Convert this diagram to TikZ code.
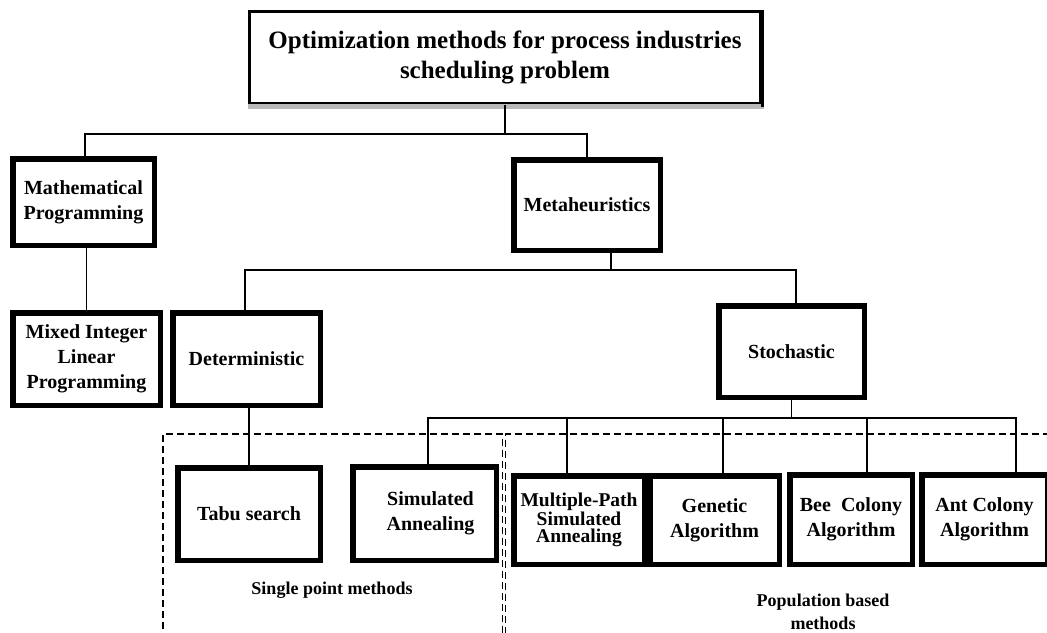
\documentclass[tikz,border=0pt]{standalone}
\usepackage{fontspec}
\setmainfont{Liberation Serif}
\usetikzlibrary{calc}
\begin{document}
\begin{tikzpicture}[x=1pt,y=-1pt,
  box/.style={draw, line width=5.5pt, fill=white, align=center, inner sep=0pt,
    font=\bfseries\fontsize{20}{25}\selectfont},
  conn/.style={draw, line width=1.4pt},
  dashedline/.style={draw, line width=1.5pt, dash pattern=on 7pt off 4pt},
  lbl/.style={align=center, inner sep=0pt, font=\bfseries\fontsize{18}{23}\selectfont}]
\useasboundingbox (0,0) rectangle (1047,632);
\clip (0,0) rectangle (1047,632);

% root
\node[draw, line width=3pt, fill=white, align=center, inner sep=0pt,
  minimum width=511pt, minimum height=92pt,
  font=\bfseries\fontsize{25}{30}\selectfont] (root) at (505,57.5)
  {Optimization methods for process industries\\scheduling problem};
\draw[gray!55, line width=5pt] ([yshift=-1pt]root.south west) -- ([yshift=-1pt,xshift=1.5pt]root.south east);
\draw[black, line width=3pt] (root.north east) -- ([yshift=-2pt]root.south east);

% level 1
\node[box, minimum width=141.5pt, minimum height=86.5pt] (mp) at (83.5,202) {Mathematical\\Programming};
\node[box, minimum width=146.5pt, minimum height=90.5pt] (meta) at (587,205) {Metaheuristics};

% level 2
\node[box, minimum width=147.5pt, minimum height=92.5pt] (milp) at (86.5,359) {Mixed Integer\\Linear\\Programming};
\node[box, minimum width=147.5pt, minimum height=92.5pt] (det) at (246.5,359) {Deterministic};
\node[box, minimum width=145.5pt, minimum height=91.5pt] (stoch) at (791.5,351.5) {Stochastic};

% level 3
\node[box, minimum width=142.5pt, minimum height=92.5pt] (tabu) at (249,514) {Tabu search};
\node[box, minimum width=143.5pt, minimum height=93.5pt] (sa) at (424.5,513.5) {\hspace*{12pt}Simulated\\\hspace*{12pt}Annealing};
\node[box, minimum width=130.5pt, minimum height=88.5pt, font=\bfseries\fontsize{19.5}{17.5}\selectfont] (mpsa) at (579,520) {Multiple-Path\\Simulated\\Annealing};
\node[box, minimum width=129.5pt, minimum height=88.5pt] (gen) at (714.5,520) {Genetic\\Algorithm};
\node[box, minimum width=122.5pt, minimum height=89.5pt] (bee) at (851,519.5) {Bee\ \ Colony\\Algorithm};
\node[box, minimum width=125.5pt, minimum height=89.5pt] (ant) at (984.5,519.5) {Ant Colony\\Algorithm};

% bars
\coordinate (bar1) at (0,134);
\coordinate (bar2) at (0,270);
\coordinate (bar3) at (0,418);

% connectors level 0-1
\draw[conn] (root.south) -- (root.south |- bar1);
\draw[conn] ([xshift=1.5pt]mp.north) |- (bar1 -| meta.north) -- (meta.north);

% level 1-2
\draw[conn] ([xshift=3pt]mp.south) -- ([xshift=3pt]mp.south |- milp.north);
\coordinate (metaS) at ([xshift=24pt]meta.south);
\draw[conn] (metaS) -- (metaS |- bar2);
\coordinate (stochN) at ([xshift=4.5pt]stoch.north);
\draw[conn] ([xshift=-1.5pt]det.north) |- (bar2 -| stochN) -- (stochN);

% level 2-3
\draw[conn] ([xshift=2.5pt]det.south) -- ([xshift=2.5pt]det.south |- tabu.north);
\coordinate (saN) at ([xshift=3.5pt]sa.north);
\coordinate (mpsaN) at ([xshift=-12pt]mpsa.north);
\coordinate (genN) at ([xshift=8.5pt]gen.north);
\coordinate (beeN) at ([xshift=16pt]bee.north);
\coordinate (antN) at ([xshift=31.5pt]ant.north);
\draw[conn] (saN) |- (bar3 -| antN) -- (antN);
\draw[conn] (stoch.south) -- (stoch.south |- bar3);
\draw[conn] (mpsaN) -- (mpsaN |- bar3);
\draw[conn] (genN) -- (genN |- bar3);
\draw[conn] (beeN) -- (beeN |- bar3);

% dashed groups
\coordinate (gTL) at (163,434);
\coordinate (gTM) at (502.5,434);
\coordinate (gTM2) at (505.5,434);
\coordinate (gTR) at (1050,434);
\draw[dashedline] (163,640) -- (gTL) -- (gTM) -- (502.5,640);
\draw[dashedline, dash phase=5pt] (505.5,640) -- (gTM2) -- (gTR);

% group labels
\node[lbl] (spm) at (332,590) {Single point methods};
\node[lbl] (pbm) at (823,612) {Population based\\methods};
\end{tikzpicture}
\end{document}
